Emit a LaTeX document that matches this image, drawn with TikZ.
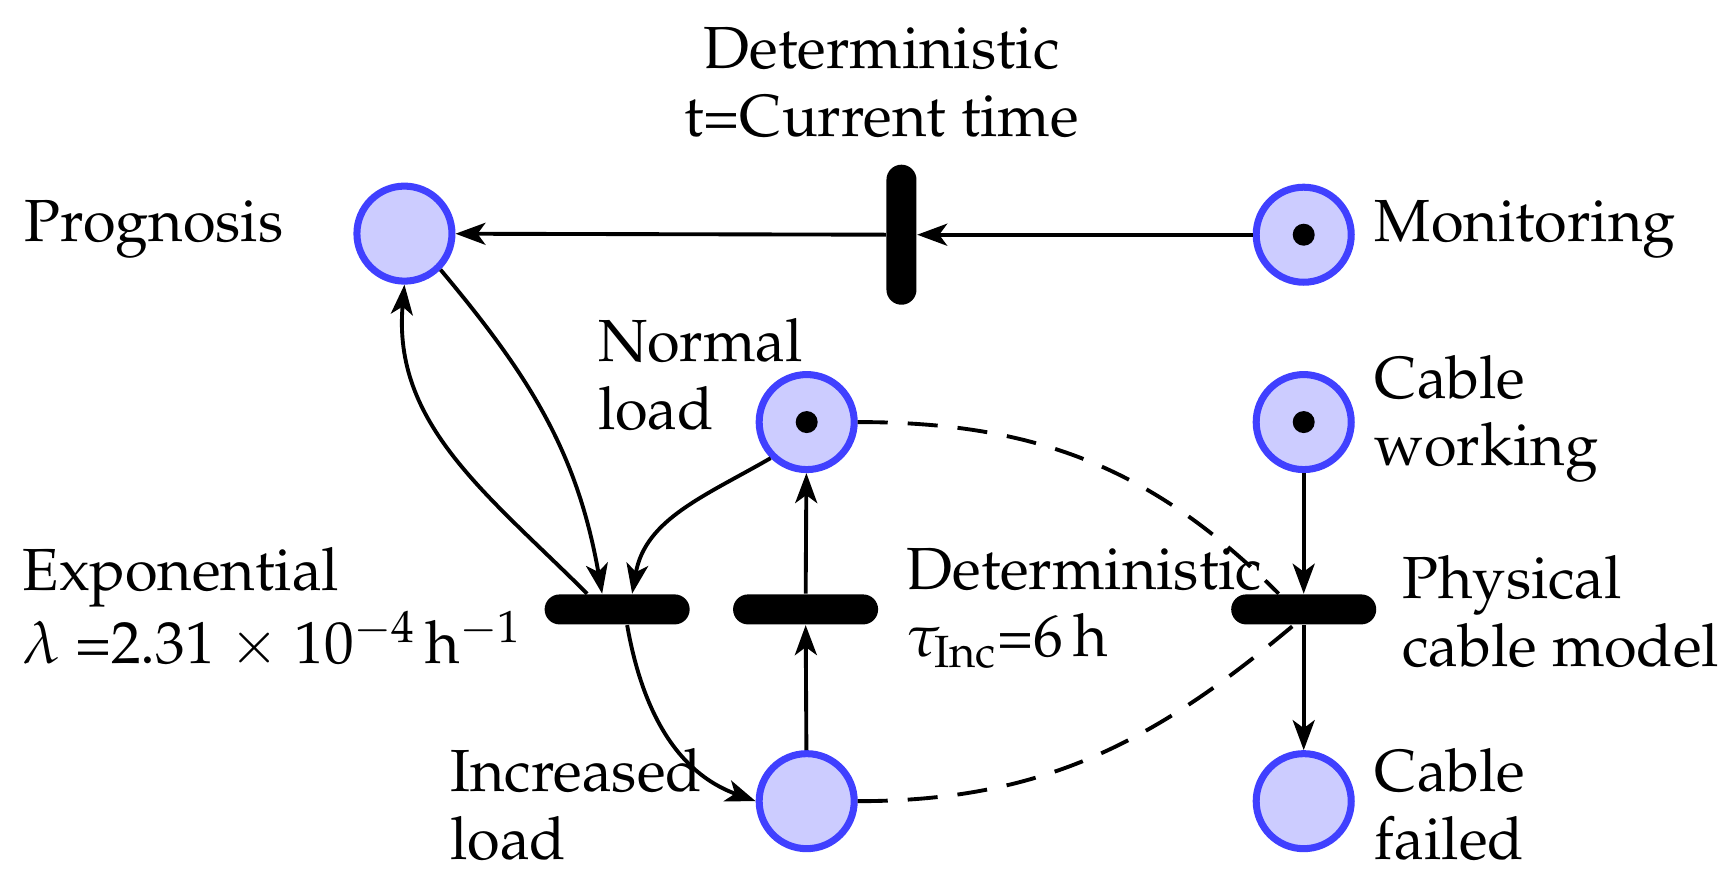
\documentclass[tikz,border=0pt]{standalone}
\usepackage[T1]{fontenc}
\usepackage{mathpazo}
\usetikzlibrary{arrows.meta}
\begin{document}
\begin{tikzpicture}[x=0.01102cm,y=-0.01102cm,
 place/.style={circle,draw=blue!75,fill=blue!20,line width=2pt,minimum size=0.95cm,inner sep=0pt},
 tok/.style={circle,fill=black,minimum size=0.22cm,inner sep=0pt},
 hbar/.style={rectangle,rounded corners=0.15cm,fill=black,minimum width=1.45cm,minimum height=0.3cm,inner sep=0pt},
 vbar/.style={rectangle,rounded corners=0.15cm,fill=black,minimum height=1.4cm,minimum width=0.3cm,inner sep=0pt},
 lbl/.style={font=\fontsize{16.9}{19.2}\selectfont,align=left,anchor=west,inner sep=0pt},
 arr/.style={-{Stealth[length=0.3cm,width=0.22cm,inset=0.08cm]},line width=1.1pt},
 dsh/.style={dashed,dash pattern=on 0.3cm off 0.2cm,line width=1.1pt}]
\useasboundingbox (0,0) rectangle (1568,808.5);
\node[place] (prog) at (367,212) {};
\node[place] (mon) at (1183,213) {};
\node[tok] at (mon) {};
\node[vbar] (tdet) at (818,213) {};
\node[place] (norm) at (732,383) {};
\node[tok] at (norm) {};
\node[place] (cw) at (1183,383) {};
\node[tok] at (cw) {};
\node[hbar] (texp) at (560,553) {};
\node[hbar] (tinc) at (731,553) {};
\node[hbar] (tphy) at (1183,553) {};
\node[place] (inc) at (732,727) {};
\node[place] (cf) at (1183,727) {};

\node[lbl] (l1) at (22,208) {Prognosis};
\node[lbl] (l2) at (1247,208) {Monitoring};
\node[lbl,align=center,anchor=center] (l3) at (800,75) {Deterministic\\t=Current time};
\node[lbl] (l4) at (542,340) {Normal\\load};
\node[lbl] (l5) at (1247,380) {Cable\\working};
\node[lbl] (l6) at (20,552) {Exponential\\$\lambda$ =2.31 $\times$ 10$^{-4}$\,h$^{-1}$};
\node[lbl] (l7) at (822,552) {Deterministic\\$\tau_{\mathrm{Inc}}$=6\,h};
\node[lbl] (l8) at (1272,555) {Physical\\cable model};
\node[lbl] (l9) at (408,730) {Increased\\load};
\node[lbl] (l10) at (1247,730) {Cable\\failed};

\draw[arr] (mon) -- (tdet);
\draw[arr] (tdet) -- (prog);
\draw[arr] (prog.south east) to[out=-50,in=100] ([xshift=-0.15cm]texp.north);
\draw[arr] ([xshift=-0.3cm]texp.north) to[out=135,in=-95] (prog.south);
\draw[arr] (norm.south west) to[out=-150,in=80] ([xshift=0.15cm]texp.north);
\draw[arr] ([xshift=0.1cm]texp.south) to[out=-80,in=160] (inc.west);
\draw[arr] (inc) -- (tinc);
\draw[arr] (tinc) -- (norm);
\draw[arr] (cw) -- (tphy);
\draw[arr] (tphy) -- (cf);
\draw[dsh] (norm.east) to[out=0,in=135] ([xshift=-0.25cm]tphy.north);
\draw[dsh] (inc.east) to[out=0,in=-140] ([xshift=-0.1cm]tphy.south);
\end{tikzpicture}
\end{document}
